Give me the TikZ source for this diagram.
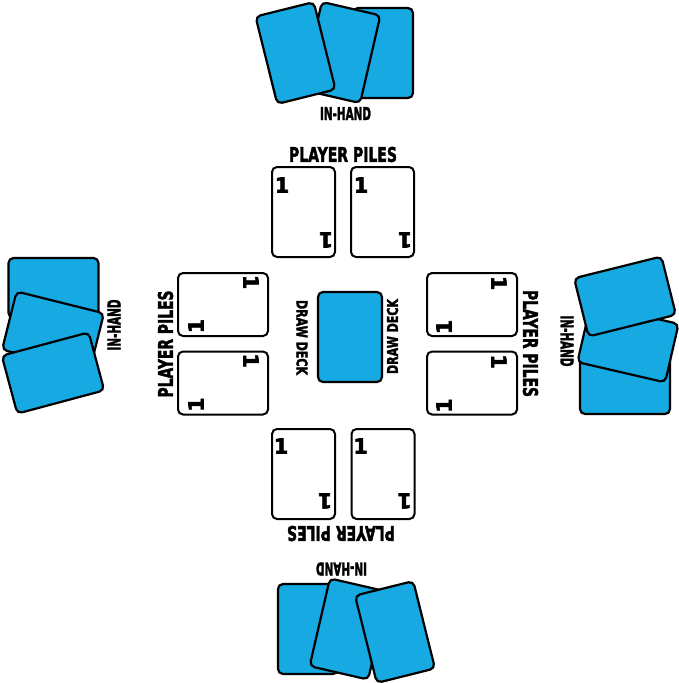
\documentclass[tikz,border=0pt]{standalone}
\usepackage{fontspec}
\setmainfont{DejaVu Sans}
\newfontfamily\heavyfont{DejaVu Sans}[BoldFeatures={FakeBold=2.5}]
\usepackage{graphicx}
\definecolor{cardblue}{RGB}{22,169,226}
\tikzset{
  card/.style={draw=black, line width=2.2pt, rounded corners=5pt, inner sep=0pt},
  pilecard/.style={card, line width=2pt, fill=white, minimum width=63pt, minimum height=90pt},
  handcard/.style={card, fill=cardblue, minimum width=60pt, minimum height=90pt},
  deckcard/.style={card, fill=cardblue, minimum width=64pt, minimum height=90pt},
  lbl/.style={inner sep=0pt, font=\heavyfont\bfseries},
}
\newcommand{\txtbox}[3]{\resizebox{#1pt}{#2pt}{#3}}
\newcommand{\pilecardat}[4]{%
  \begin{scope}[shift={(#2,#3)}, rotate=#4, transform shape]
    \node[pilecard] (#1) at (0,0) {};
    \node[lbl] (#1-a) at (-21.5,-27) {\resizebox{!}{15pt}{1}};
    \node[lbl, rotate=180] (#1-b) at (22.5,28) {\resizebox{!}{15pt}{1}};
  \end{scope}}
\begin{document}
\begin{tikzpicture}[x=1pt, y=-1pt]
\useasboundingbox (0,0) rectangle (679,683);

% ---- top hand
\node[handcard] (th1) at (383,53) {};
\node[handcard, rotate=-13] (th2) at (341,52.5) {};
\node[handcard, rotate=14] (th3) at (295.5,53) {};
\node[lbl] (thl) at (345.5,113.5) {\txtbox{51}{13}{IN-HAND}};

% ---- bottom hand
\node[handcard, rotate=180] (bh1) at (308,629) {};
\node[handcard, rotate=167] (bh2) at (349,629) {};
\node[handcard, rotate=194] (bh3) at (395,632) {};
\node[lbl, rotate=180] (bhl) at (341.5,569) {\txtbox{51}{13}{IN-HAND}};

% ---- left hand
\node[handcard, rotate=90] (lh1) at (53.5,288) {};
\node[handcard, rotate=76] (lh2) at (53,331.5) {};
\node[handcard, rotate=105] (lh3) at (53,373) {};
\node[lbl, rotate=90] (lhl) at (114,325) {\txtbox{51}{13}{IN-HAND}};

% ---- right hand
\node[handcard, rotate=-90] (rh1) at (625,384) {};
\node[handcard, rotate=-103] (rh2) at (628,343) {};
\node[handcard, rotate=-76] (rh3) at (625,296.5) {};
\node[lbl, rotate=-90] (rhl) at (567,341) {\txtbox{51}{13}{IN-HAND}};

% ---- player piles
\node[lbl] (tpl) at (343,154.5) {\txtbox{108}{15}{PLAYER PILES}};
\pilecardat{tp1}{303.5}{212}{0}
\pilecardat{tp2}{382.5}{212}{0}

\node[lbl, rotate=180] (bpl) at (341,533.5) {\txtbox{108}{15}{PLAYER PILES}};
\pilecardat{bp1}{303.5}{474}{180}
\pilecardat{bp2}{383}{474}{180}

\node[lbl, rotate=90] (lpl) at (165.5,344) {\txtbox{107}{15}{PLAYER PILES}};
\pilecardat{lp1}{223}{304.5}{90}
\pilecardat{lp2}{223}{383}{90}

\node[lbl, rotate=-90] (rpl) at (530.5,343.5) {\txtbox{107}{15}{PLAYER PILES}};
\pilecardat{rp1}{472}{304.5}{-90}
\pilecardat{rp2}{472}{383}{-90}

% ---- draw deck
\node[deckcard] (deck) at (350,337) {};
\node[lbl, rotate=-90] (ddl) at (302,337.5) {\txtbox{75}{11}{DRAW DECK}};
\node[lbl, rotate=90] (ddr) at (392.5,336.5) {\txtbox{75}{11}{DRAW DECK}};
\end{tikzpicture}
\end{document}
